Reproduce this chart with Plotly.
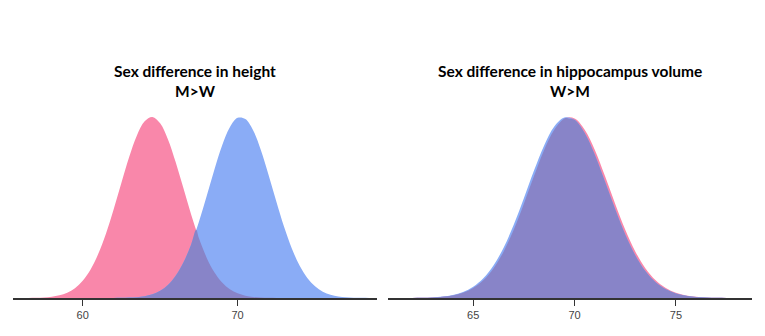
import numpy as np
import plotly.graph_objects as go

# ---- data (relative density heights, peak = 1) ----
x_height = [55.5, 56, 56.5, 57, 57.5, 58, 58.5, 59, 59.5, 60, 60.5, 61, 61.5, 62, 62.5, 63,
            63.5, 64, 64.5, 65, 65.5, 66, 66.5, 67, 67.5, 68, 68.5, 69, 69.5, 70, 70.5, 71,
            71.5, 72, 72.5, 73, 73.5, 74, 74.5, 75, 75.5, 76, 76.5, 77, 77.5, 78, 78.5, 79]
women_height = [0.0001, 0.0002, 0.0005, 0.0014, 0.0032, 0.0071, 0.0148, 0.029, 0.054, 0.095,
                0.156, 0.243, 0.355, 0.490, 0.636, 0.779, 0.898, 0.976, 1.000, 0.965, 0.877,
                0.751, 0.607, 0.461, 0.331, 0.223, 0.142, 0.085, 0.048, 0.026, 0.0128, 0.0061,
                0.0027, 0.0011, 0.0004, 0.0002, 0, 0, 0, 0, 0, 0, 0, 0, 0, 0, 0, 0]
men_height = [0, 0, 0, 0, 0, 0, 0, 0, 0, 0, 0, 0, 0.0001, 0.0003, 0.0009, 0.0021, 0.0048, 0.0103,
              0.021, 0.040, 0.072, 0.123, 0.196, 0.296, 0.420, 0.562, 0.709, 0.843, 0.943, 0.995,
              0.989, 0.927, 0.818, 0.680, 0.533, 0.393, 0.274, 0.179, 0.111, 0.065, 0.035, 0.018,
              0.0089, 0.0041, 0.0018, 0.0007, 0.0003, 0.0001]

x_hippo = [61, 61.5, 62, 62.5, 63, 63.5, 64, 64.5, 65, 65.5, 66, 66.5, 67, 67.5, 68, 68.5, 69,
           69.5, 70, 70.5, 71, 71.5, 72, 72.5, 73, 73.5, 74, 74.5, 75, 75.5, 76, 76.5, 77, 77.5,
           78, 78.5]
men_hippo = [0.0001, 0.0002, 0.0005, 0.0014, 0.0033, 0.0077, 0.0164, 0.033, 0.062, 0.109, 0.180,
             0.278, 0.405, 0.551, 0.704, 0.843, 0.947, 0.997, 0.984, 0.911, 0.791, 0.643, 0.491,
             0.351, 0.235, 0.148, 0.087, 0.048, 0.025, 0.0122, 0.0055, 0.0024, 0.0010, 0.0004,
             0.0001, 0]
women_hippo = [0.0001, 0.0002, 0.0004, 0.0011, 0.0028, 0.0065, 0.0141, 0.0287, 0.0547, 0.0975,
               0.163, 0.256, 0.377, 0.521, 0.674, 0.818, 0.930, 0.992, 0.992, 0.930, 0.818,
               0.674, 0.521, 0.377, 0.256, 0.163, 0.0975, 0.0547, 0.0287, 0.0141, 0.0065,
               0.0028, 0.0011, 0.0004, 0.0002, 0.0001]

ticks_height = [60, 70]
ticks_hippo = [65, 70, 75]
titles = [("Sex difference in height", "M>W"),
          ("Sex difference in hippocampus volume", "W>M")]

PINK = "rgb(249,135,170)"
BLUE = "rgb(138,172,246)"
PURPLE = "rgb(136,132,200)"

fig = go.Figure()


def overlap_path(xs, w, m):
    """Lower envelope of the two curves, with crossing points added."""
    xs = np.asarray(xs, float)
    d = w - m
    ox, oy = [], []
    for i in range(len(xs)):
        ox.append(xs[i])
        oy.append(min(w[i], m[i]))
        if i < len(xs) - 1 and d[i] * d[i + 1] < 0:
            t = d[i] / (d[i] - d[i + 1])
            ox.append(xs[i] + t * (xs[i + 1] - xs[i]))
            oy.append(w[i] + t * (w[i + 1] - w[i]))
    return ox, oy


def add_panel(xs, women, men, xa, ya):
    w = np.array(women, float)
    m = np.array(men, float)
    ox, oy = overlap_path(xs, w, m)
    for px, py, col in ((xs, w, PINK), (xs, m, BLUE), (ox, oy, PURPLE)):
        fig.add_trace(go.Scatter(x=px, y=py, mode="lines", fill="tozeroy",
                                 line=dict(width=0, color=col, shape="spline", smoothing=1.0),
                                 fillcolor=col, xaxis=xa, yaxis=ya, hoverinfo="skip",
                                 showlegend=False))


add_panel(x_height, women_height, men_height, "x", "y")
add_panel(x_hippo, women_hippo, men_hippo, "x2", "y2")

axis_common = dict(showgrid=False, zeroline=False, showline=True, linecolor="#333",
                   linewidth=1.5, ticks="outside", ticklen=6, tickwidth=1.3, tickcolor="#333",
                   tickfont=dict(family="Liberation Sans, Arial", size=11, color="#444"))

fig.update_layout(
    width=765, height=336, margin=dict(l=0, r=0, t=0, b=38),
    paper_bgcolor="white", plot_bgcolor="white",
    xaxis=dict(domain=[13 / 765, 377 / 765], range=[55.5, 79.0], tickvals=ticks_height,
               anchor="y", **axis_common),
    xaxis2=dict(domain=[388 / 765, 752 / 765], range=[60.8, 78.75], tickvals=ticks_hippo,
                anchor="y2", **axis_common),
    yaxis=dict(range=[0, 1.646], visible=False, domain=[0, 1]),
    yaxis2=dict(range=[0, 1.646], visible=False, domain=[0, 1], anchor="x2"),
)

# outer end ticks of each axis
for xr, yr in (("x domain", "y"), ("x2 domain", "y2")):
    for xv in (0, 1):
        fig.add_shape(type="line", xref=xr, yref=yr, x0=xv, x1=xv, y0=0, y1=-0.033,
                      line=dict(color="#333", width=1.5))

for i, (l1, l2) in enumerate(titles):
    xr = "x domain" if i == 0 else "x2 domain"
    for txt, yv in ((l1, 0.762), (l2, 0.695)):
        fig.add_annotation(text="<b>%s</b>" % txt, xref=xr, yref="paper", x=0.5, y=yv,
                           xanchor="center", yanchor="middle", showarrow=False,
                           font=dict(family="Lato", size=15.5, color="black"))

fig.write_html("out.html")
